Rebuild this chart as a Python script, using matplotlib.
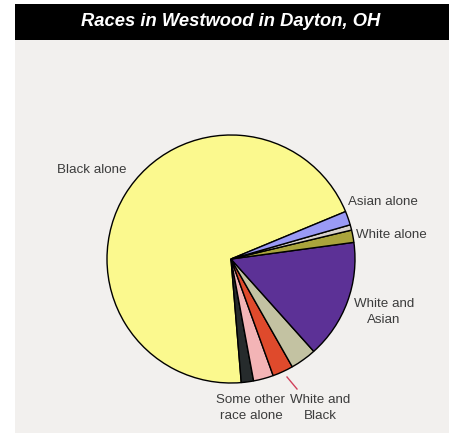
import matplotlib
matplotlib.use("Agg")
import matplotlib.pyplot as plt
from matplotlib.patches import Rectangle

plt.rcParams['font.family'] = ['Liberation Sans', 'DejaVu Sans']

# slice data, counterclockwise from the Black alone slice
categories = ['Black alone', 'Some other race alone', 'Black and other', 'White and Black',
              'Black and Asian', 'White and Asian', 'White alone', 'Other alone', 'Asian alone']
shares = [70.0, 1.6, 2.6, 2.7, 3.4, 15.5, 1.6, 0.7, 1.8]
colors = ['#fbf98e', '#262b2c', '#f3b4b6', '#df4a2c', '#c3c2a2',
          '#5c3196', '#aaa43c', '#d8d2cc', '#9a9af5']

W, H = 449, 436
fig = plt.figure(figsize=(W / 100, H / 100), dpi=100)
ax = fig.add_axes([0, 0, 1, 1])


def iy(y):
    # image row -> data y
    return H - y


# background panel and title bar
ax.add_patch(Rectangle((15, iy(433)), W - 15, 433 - 40, facecolor='#f2f0ee', edgecolor='none', zorder=0))
ax.add_patch(Rectangle((15, iy(40)), W - 15, 36, facecolor='black', edgecolor='none', zorder=1))
ax.text(231, iy(22), 'Races in Westwood in Dayton, OH', color='white', fontsize=13.2,
        style='italic', weight='bold', ha='center', va='center', zorder=2)

ax.pie(shares, colors=colors, startangle=22.5, counterclock=True,
       center=(231, iy(259)), radius=124,
       wedgeprops=dict(edgecolor='black', linewidth=1.0))

# slice labels
label_pos = {
    'Black alone': (92, 170),
    'Asian alone': (383, 202),
    'White alone': (391, 235),
    'White and Asian': (384, 312),
    'Some other race alone': (251, 408),
    'White and Black': (320, 408),
}
label_text = {
    'Black alone': 'Black alone',
    'Asian alone': 'Asian alone',
    'White alone': 'White alone',
    'White and Asian': 'White and\nAsian',
    'Some other race alone': 'Some other\nrace alone',
    'White and Black': 'White and\nBlack',
}
for name in categories:
    if name in label_pos:
        x, y = label_pos[name]
        ax.text(x, iy(y), label_text[name], ha='center', va='center', fontsize=9.6,
                color='#3c3c3c', linespacing=1.4, zorder=3)

# leader line for White and Black
ax.plot([287, 297], [iy(377), iy(389)], color='#d0405a', linewidth=1.0, zorder=3)

ax.set_xlim(0, W)
ax.set_ylim(0, H)
ax.set_aspect('auto')
ax.axis('off')

fig.savefig('out.png', dpi=100, facecolor='white')
